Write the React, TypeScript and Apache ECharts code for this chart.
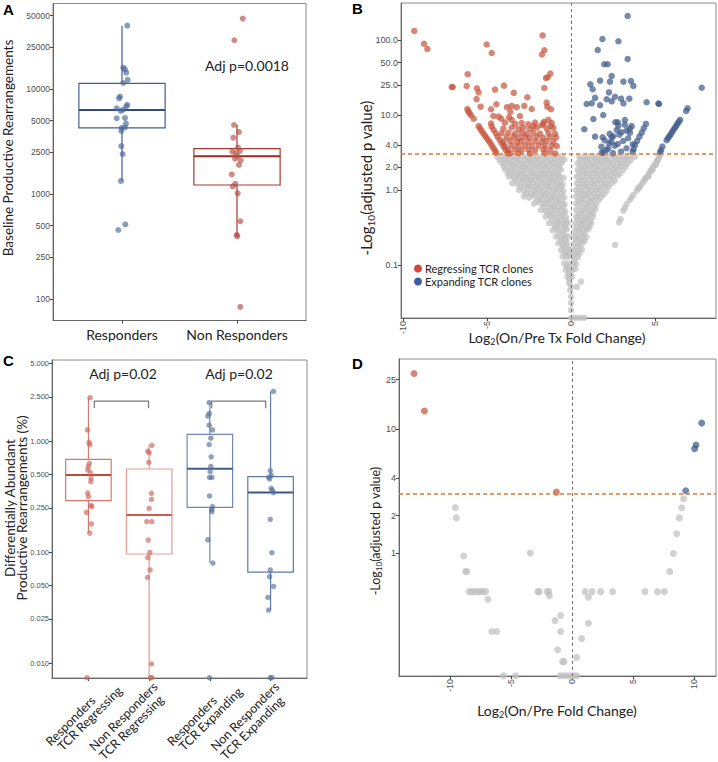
import React, { useEffect, useRef } from "react";
import * as echarts from "echarts";

// ---------------- Panel A ----------------
const aCategories = ["Responders", "Non Responders"];
const aRespJitter = [1.046, 1.011, 1.026, 1.037, 1.05, 1.011, 0.983, 0.974, 1.046, 1.037, 0.954, 0.989, 1.011, 0.954, 1.026, 1.035, 1.026, 0.997, 0.994, 0.994, 1.006, 0.991, 1.029, 0.968];
const aRespValues = [40100, 15950, 15400, 14300, 12200, 11400, 8450, 8150, 7050, 6850, 6550, 6170, 6350, 5260, 5300, 4680, 4300, 4270, 3980, 2860, 2400, 1330, 514, 454];
const aNonJitter = [2.05, 1.977, 1.974, 2.017, 1.968, 2.009, 1.959, 2.026, 1.991, 2.003, 1.983, 2.032, 2.017, 1.954, 1.985, 1.963, 2.006, 2.029, 1.997, 2.003, 2.029];
const aNonValues = [46800, 29100, 4540, 3890, 3440, 2760, 2530, 2570, 2450, 2300, 2170, 2090, 1890, 1540, 1250, 1180, 1015, 550, 407, 395, 84];
// [position, q1, median, q3, lower whisker, upper whisker]
const aBoxStats = [
  [1, 4260, 6310, 11330, 1330, 40100],
  [2, 1218, 2285, 2700, 398, 4540],
];
const aTicks = [100, 250, 500, 1000, 2500, 5000, 10000, 25000, 50000];
const aTickLabels = ["100", "250", "500", "1000", "2500", "5000", "10000", "25000", "50000"];
const aAnnotation = "Adj p=0.0018";

// ---------------- Panel B ----------------
const bThreshold = 3;
const bRegressing = [
  [-9.33, 132], [-8.75, 89], [-8.55, 76], [-5.02, 87], [-4.72, 67], [-1.69, 115], [-1.59, 73], [-1.73, 64],
  [-6.15, 35], [-1.23, 35.6], [-1.39, 31.8], [-1.49, 31.1],
  [-7.1, 23.6], [-7.04, 23.6], [-6.21, 24.4], [-5.6, 22.7], [-5.5, 20], [-4.52, 21.8], [-3.99, 24.6], [-3.41, 19.7], [-1.59, 22.9],
  [-5.62, 16.3], [-2.6, 17.2], [-4.44, 13.9], [-5.38, 12.9], [-6.17, 12], [-6.11, 11.2], [-6.05, 10.6],
  [-4.76, 11.9], [-3.81, 12.7], [-3.53, 13.2], [-3.23, 12.7], [-2.78, 13.2], [-2.34, 12], [-1.45, 14.6], [-1.41, 12.9], [-1.19, 11.9],
  [-3.61, 11], [-4.62, 9.7], [-5.79, 8.9], [-4.31, 9.5], [-4.15, 8.9], [-3.69, 9.3], [-3.04, 9.7], [-3.53, 8.6], [-1.35, 8.6], [-1.61, 8.1],
  [-2.24, 7.1], [-1.75, 7.3], [-1.21, 7.1], [-5.95, 9.9],
  [-5.5, 7.13], [-5.42, 6.64], [-5.32, 6.1], [-5.22, 5.7], [-5.12, 5.3], [-5.02, 4.94], [-4.92, 4.6], [-4.82, 4.28], [-4.72, 3.94], [-4.62, 3.63], [-4.52, 3.35], [-4.46, 3.14],
  [-4.72, 6.98], [-4.6, 6.3], [-4.48, 5.7], [-4.37, 5.14], [-4.25, 4.65], [-4.13, 4.19], [-4.01, 3.78], [-3.89, 3.41], [-3.77, 3.08],
  [-4.76, 7.7], [-3.93, 7.9], [-3.33, 7.6], [-2.94, 7.8], [-2.54, 7.5], [-2.14, 7.9], [-1.65, 7.6], [-1.15, 7.8],
  [-4.03, 6.6], [-3.53, 6.8], [-3.13, 6.5], [-2.84, 6.7], [-2.44, 6.5], [-2.04, 6.8], [-1.45, 6.6], [-1.05, 6.7],
  [-4.13, 5.7], [-3.73, 5.8], [-3.33, 5.6], [-2.94, 5.75], [-2.64, 5.6], [-2.24, 5.8], [-1.85, 5.65], [-1.35, 5.75], [-0.95, 5.6],
  [-3.83, 5.04], [-3.43, 5.1], [-3.1, 4.95], [-2.74, 5.1], [-2.44, 4.98], [-2.04, 5.1], [-1.65, 4.95], [-1.25, 5.08], [-0.89, 5.0],
  [-4.03, 4.41], [-3.63, 4.5], [-3.23, 4.35], [-2.94, 4.48], [-2.54, 4.36], [-2.14, 4.46], [-1.75, 4.38], [-1.45, 4.47], [-1.05, 4.4],
  [-3.93, 3.86], [-3.53, 3.92], [-3.13, 3.82], [-2.74, 3.9], [-2.34, 3.84], [-1.94, 3.9], [-1.55, 3.82], [-1.15, 3.9], [-0.85, 3.85],
  [-3.73, 3.41], [-3.33, 3.46], [-2.94, 3.38], [-2.54, 3.44], [-2.14, 3.39], [-1.65, 3.45], [-1.25, 3.4],
  [-3.63, 3.08], [-3.13, 3.1], [-2.44, 3.06], [-1.55, 3.1], [-0.95, 3.07],
];
const bExpanding = [
  [3.37, 209], [1.87, 103], [2.82, 96], [1.59, 73.6], [3.37, 55.8], [1.98, 47.4], [2.18, 47.4], [2.42, 33.1],
  [1.73, 28.7], [2.32, 27.8], [3.12, 27.8], [3.57, 28.4], [3.71, 24.4], [1.15, 25.6], [1.29, 22], [2.26, 20], [7.78, 23.1],
  [2.62, 17.5], [2.98, 16.5], [3.47, 16.5], [1.43, 16.9], [2.12, 16.2], [0.93, 14], [1.23, 14.3], [1.73, 13.5], [2.42, 15.2],
  [3.12, 14.3], [4.5, 14.8], [5.2, 14.2], [5.24, 14.0], [1.92, 10], [6.94, 12.3], [6.85, 11.3], [1.33, 8.85], [2.64, 8.0],
  [2.78, 8.0], [3.21, 8.58], [2.82, 7.2], [3.61, 7.1], [0.79, 6.44], [2.72, 6.3], [3.31, 6.18], [1.43, 5.14], [1.88, 5.04],
  [2.42, 5.04], [2.52, 5.2], [2.88, 5.47], [3.51, 5.81], [1.81, 3.78], [2.26, 4.19], [2.78, 4.1], [3.67, 4.06], [1.83, 3.15],
  [1.93, 3.15], [2.98, 3.24], [2.22, 3.59], [2.0, 4.6], [2.4, 4.4], [2.6, 3.9], [3.1, 4.5], [3.3, 3.6], [2.1, 3.4], [2.5, 3.1],
  [3.0, 5.9], [3.4, 4.9], [2.3, 5.6], [3.2, 7.4], [3.5, 6.6],
  [4.46, 7.6], [4.33, 6.64], [4.21, 5.81], [4.07, 5.14], [3.93, 4.5], [3.81, 3.98], [3.73, 3.52], [3.67, 3.24],
  [6.49, 8.6], [6.41, 8.1], [6.33, 7.6], [6.25, 7.1], [6.17, 6.7], [6.09, 6.3], [6.01, 5.9], [5.93, 5.5], [5.85, 5.2],
  [5.77, 4.9], [5.69, 4.6], [5.44, 3.8], [5.36, 3.4], [5.3, 3.2],
];
const bNotSignificant = [
  [-4.4, 2.8], [-4.1, 2.72], [-3.8, 2.82], [-3.5, 2.75], [-3.2, 2.7], [-2.9, 2.84], [-2.6, 2.74], [-2.3, 2.8], [-2.0, 2.7], [-1.7, 2.82], [-1.4, 2.74], [-1.1, 2.86], [-0.8, 2.72], [-0.55, 2.8], [-0.4, 2.55],
  [-4.25, 2.5], [-3.95, 2.55], [-3.65, 2.48], [-3.35, 2.56], [-3.05, 2.5], [-2.75, 2.55], [-2.45, 2.47], [-2.15, 2.56], [-1.85, 2.5], [-1.55, 2.54], [-1.25, 2.48], [-0.95, 2.55], [-0.65, 2.5],
  [-4.1, 2.27], [-3.8, 2.32], [-3.5, 2.22], [-3.2, 2.3], [-2.9, 2.24], [-2.6, 2.33], [-2.3, 2.25], [-2.0, 2.3], [-1.7, 2.22], [-1.4, 2.31], [-1.1, 2.26], [-0.8, 2.2], [-0.55, 2.3],
  [-4.0, 2.05], [-3.7, 2.02], [-3.4, 2.08], [-3.1, 2.03], [-2.8, 2.07], [-2.5, 2.01], [-2.2, 2.06], [-1.9, 2.03], [-1.6, 2.08], [-1.3, 2.02], [-1.0, 2.06], [-0.7, 2.02],
  [-3.9, 1.85], [-3.6, 1.8], [-3.3, 1.9], [-3.0, 1.83], [-2.7, 1.88], [-2.4, 1.8], [-2.1, 1.87], [-1.8, 1.82], [-1.5, 1.9], [-1.2, 1.84], [-0.9, 1.8], [-0.6, 1.86],
  [-3.75, 1.66], [-3.45, 1.68], [-3.15, 1.64], [-2.85, 1.69], [-2.55, 1.65], [-2.25, 1.67], [-1.95, 1.63], [-1.65, 1.68], [-1.35, 1.65], [-1.05, 1.67], [-0.75, 1.64],
  [-3.7, 1.51], [-3.4, 1.48], [-3.1, 1.55], [-2.8, 1.5], [-2.5, 1.46], [-2.2, 1.53], [-1.9, 1.49], [-1.6, 1.55], [-1.3, 1.47], [-1.0, 1.52], [-0.7, 1.5], [-0.45, 1.45],
  [-3.35, 1.36], [-3.05, 1.34], [-2.75, 1.38], [-2.45, 1.35], [-2.15, 1.37], [-1.85, 1.33], [-1.55, 1.37], [-1.25, 1.34], [-0.95, 1.36], [-0.65, 1.33],
  [-3.5, 1.23], [-3.2, 1.2], [-2.9, 1.26], [-2.6, 1.21], [-2.3, 1.25], [-2.0, 1.19], [-1.7, 1.24], [-1.4, 1.2], [-1.1, 1.26], [-0.8, 1.22], [-0.5, 1.18],
  [-3.0, 1.1], [-2.7, 1.12], [-2.4, 1.09], [-2.1, 1.11], [-1.8, 1.08], [-1.5, 1.12], [-1.2, 1.1], [-0.9, 1.09], [-0.6, 1.11],
  [-3.1, 1.0], [-2.8, 0.97], [-2.5, 1.03], [-2.2, 0.98], [-1.9, 1.02], [-1.6, 0.96], [-1.3, 1.01], [-1.0, 0.98], [-0.7, 1.03], [-0.45, 0.97],
  [-2.65, 0.9], [-2.35, 0.88], [-2.05, 0.91], [-1.75, 0.89], [-1.45, 0.9], [-1.15, 0.88], [-0.85, 0.91], [-0.55, 0.89],
  [-2.8, 0.82], [-2.5, 0.79], [-2.2, 0.83], [-1.9, 0.8], [-1.6, 0.84], [-1.3, 0.81], [-1.0, 0.79], [-0.7, 0.83], [-0.4, 0.8],
  [-2.05, 0.73], [-1.75, 0.74], [-1.45, 0.72], [-1.15, 0.74], [-0.85, 0.73], [-0.55, 0.72],
  [-2.2, 0.66], [-1.9, 0.68], [-1.6, 0.65], [-1.3, 0.67], [-1.0, 0.64], [-0.7, 0.68], [-0.4, 0.65],
  [-1.65, 0.6], [-1.35, 0.59], [-1.05, 0.6], [-0.75, 0.59], [-0.45, 0.6],
  [-1.8, 0.54], [-1.5, 0.52], [-1.2, 0.55], [-0.9, 0.53], [-0.6, 0.55], [-0.35, 0.52],
  [-1.35, 0.48], [-1.05, 0.49], [-0.75, 0.48], [-0.45, 0.49],
  [-1.5, 0.44], [-1.2, 0.45], [-0.9, 0.43], [-0.6, 0.45], [-0.3, 0.44],
  [-1.15, 0.4], [-0.85, 0.39], [-0.55, 0.4], [-0.3, 0.39],
  [-1.3, 0.36], [-1.0, 0.35], [-0.7, 0.37], [-0.4, 0.35], [-0.2, 0.36],
  [-1.1, 0.29], [-0.8, 0.3], [-0.5, 0.29], [-0.25, 0.3], [-0.95, 0.32], [-0.65, 0.33], [-0.35, 0.32],
  [-0.9, 0.24], [-0.6, 0.23], [-0.35, 0.24], [-0.15, 0.24], [-0.75, 0.265], [-0.45, 0.26],
  [-0.75, 0.195], [-0.5, 0.19], [-0.25, 0.2], [-0.6, 0.215], [-0.35, 0.215],
  [-0.6, 0.158], [-0.35, 0.155], [-0.1, 0.16], [-0.45, 0.175], [-0.2, 0.175],
  [-0.5, 0.13], [-0.25, 0.127], [-0.05, 0.13], [-0.35, 0.142], [-0.15, 0.143],
  [-0.4, 0.105], [-0.15, 0.103], [-0.3, 0.086], [-0.1, 0.087], [-0.2, 0.07], [-0.05, 0.071], [-0.25, 0.095], [-0.15, 0.078],
  [-0.1, 0.057], [-0.05, 0.046], [0.0, 0.038], [0.0, 0.031], [0.0, 0.025], [-0.1, 0.063], [0.0, 0.051],
  [0.0, 0.0198], [0.2, 0.0198], [0.4, 0.0198], [0.6, 0.0198], [0.8, 0.0198],
  [0.5, 2.78], [0.8, 2.7], [1.1, 2.82], [1.4, 2.74], [1.7, 2.8], [2.0, 2.72], [2.3, 2.84], [2.6, 2.75], [2.9, 2.8], [3.2, 2.72], [3.5, 2.83], [3.8, 2.78],
  [0.55, 2.5], [0.85, 2.55], [1.15, 2.48], [1.45, 2.56], [1.75, 2.5], [2.05, 2.55], [2.35, 2.47], [2.65, 2.56], [2.95, 2.5], [3.25, 2.54], [3.55, 2.5],
  [0.4, 2.27], [0.7, 2.22], [1.0, 2.3], [1.3, 2.24], [1.6, 2.32], [1.9, 2.25], [2.2, 2.29], [2.5, 2.22], [2.8, 2.31], [3.1, 2.26], [3.4, 2.3],
  [0.55, 2.05], [0.85, 2.02], [1.15, 2.08], [1.45, 2.03], [1.75, 2.07], [2.05, 2.01], [2.35, 2.06], [2.65, 2.03], [2.95, 2.07], [3.25, 2.04],
  [0.4, 1.85], [0.7, 1.81], [1.0, 1.88], [1.3, 1.83], [1.6, 1.87], [1.9, 1.8], [2.2, 1.86], [2.5, 1.82], [2.8, 1.88], [3.1, 1.84],
  [0.5, 1.66], [0.8, 1.68], [1.1, 1.64], [1.4, 1.69], [1.7, 1.65], [2.0, 1.67], [2.3, 1.63], [2.6, 1.68], [2.9, 1.65],
  [0.35, 1.51], [0.65, 1.47], [0.95, 1.54], [1.25, 1.49], [1.55, 1.53], [1.85, 1.48], [2.15, 1.52], [2.45, 1.5], [2.75, 1.55],
  [0.5, 1.36], [0.8, 1.34], [1.1, 1.38], [1.4, 1.35], [1.7, 1.37], [2.0, 1.33], [2.3, 1.37], [2.6, 1.34],
  [0.35, 1.23], [0.65, 1.2], [0.95, 1.25], [1.25, 1.21], [1.55, 1.26], [1.85, 1.22], [2.15, 1.19], [2.45, 1.24],
  [0.45, 1.1], [0.75, 1.12], [1.05, 1.09], [1.35, 1.11], [1.65, 1.08], [1.95, 1.12], [2.25, 1.1],
  [0.3, 1.0], [0.6, 0.97], [0.9, 1.02], [1.2, 0.98], [1.5, 1.03], [1.8, 0.99], [2.1, 0.96],
  [0.45, 0.9], [0.75, 0.88], [1.05, 0.91], [1.35, 0.89], [1.65, 0.9], [1.95, 0.88],
  [0.3, 0.82], [0.6, 0.8], [0.9, 0.83], [1.2, 0.79], [1.5, 0.82], [1.8, 0.8],
  [0.45, 0.73], [0.75, 0.74], [1.05, 0.72], [1.35, 0.74], [1.65, 0.73],
  [0.3, 0.66], [0.6, 0.68], [0.9, 0.65], [1.2, 0.67], [1.5, 0.64],
  [0.45, 0.6], [0.75, 0.59], [1.05, 0.6], [1.35, 0.59],
  [0.3, 0.54], [0.6, 0.52], [0.9, 0.55], [1.2, 0.53], [1.45, 0.55],
  [0.45, 0.48], [0.75, 0.49], [1.05, 0.48], [1.3, 0.49],
  [0.3, 0.44], [0.55, 0.45], [0.8, 0.43], [1.05, 0.45], [1.3, 0.44],
  [0.4, 0.4], [0.65, 0.39], [0.9, 0.4], [1.15, 0.39],
  [0.25, 0.36], [0.5, 0.35], [0.75, 0.37], [1.0, 0.35], [1.2, 0.36],
  [0.35, 0.32], [0.6, 0.33], [0.85, 0.32], [1.1, 0.32],
  [0.25, 0.29], [0.5, 0.3], [0.75, 0.29], [1.0, 0.3],
  [0.3, 0.26], [0.55, 0.265], [0.8, 0.26],
  [0.2, 0.24], [0.45, 0.23], [0.7, 0.24], [0.9, 0.235],
  [0.3, 0.215], [0.55, 0.215], [0.8, 0.21],
  [0.2, 0.195], [0.45, 0.19], [0.7, 0.2],
  [0.3, 0.175], [0.55, 0.175],
  [0.15, 0.158], [0.4, 0.155], [0.65, 0.16],
  [0.25, 0.142], [0.5, 0.143],
  [0.15, 0.13], [0.4, 0.127], [0.1, 0.105], [0.3, 0.103], [0.1, 0.086], [0.05, 0.07], [0.35, 0.051], [0.6, 0.06], [0.2, 0.115], [0.25, 0.09],
  [2.62, 0.185], [2.86, 0.37], [2.95, 0.41], [3.12, 0.53], [3.31, 0.65], [3.51, 0.74], [3.71, 0.86], [3.91, 0.98], [4.01, 1.04],
  [4.11, 1.11], [4.21, 1.2], [4.31, 1.29], [4.41, 1.38], [4.5, 1.48], [4.6, 1.6], [4.7, 1.75], [4.8, 1.9], [4.9, 2.05],
  [5.0, 2.2], [5.1, 2.39], [5.17, 2.55], [5.24, 2.73], [5.28, 2.88], [4.62, 1.52], [4.85, 1.85], [5.05, 2.15],
  [3.2, 0.58], [3.6, 0.8], [4.0, 1.07], [4.4, 1.42], [4.75, 1.8], [5.15, 2.5],
];
const bXTicks = [-10, -5, 0, 5];
const bYTicks = [0.1, 1, 2, 4, 10, 25, 50, 100];
const bYTickLabels = ["0.1", "1.0", "2.0", "4.0", "10.0", "25.0", "50.0", "100.0"];
const bLegendNames = ["Regressing TCR clones", "Expanding TCR clones"];

// ---------------- Panel C ----------------
const cLabelLine1 = ["Responders", "Non Responders", "Responders", "Non Responders"];
const cLabelLine2 = ["TCR Regressing", "TCR Regressing", "TCR Expanding", "TCR Expanding"];
const cRegJitter = [1.027, 0.984, 1.011, 1.022, 1.016, 1.0, 0.989, 1.044, 0.989, 1.0, 1.044, 1.055, 0.967, 1.049, 1.022, 0.978, 1.03, 1.04,
  2.044, 1.978, 2.0, 1.995, 2.038, 2.038, 2.0, 1.962, 2.044, 1.984, 2.011, 1.978, 2.016, 1.973, 2.038, 2.022, 2.044];
const cRegValues = [2.46, 1.26, 0.97, 0.93, 0.63, 0.59, 0.55, 0.46, 0.34, 0.315, 0.263, 0.257, 0.228, 0.179, 0.148, 0, 0.52, 0.43,
  0.914, 0.81, 0.785, 0.643, 0.338, 0.298, 0.247, 0.188, 0.188, 0.128, 0.099, 0.089, 0.069, 0.059, 0.0098, 0, 0];
const cExpJitter = [2.989, 2.989, 2.967, 2.989, 3.044, 3.016, 2.989, 3.022, 3.016, 3.005, 2.995, 3.033, 2.995, 3.044, 3.033, 3.033, 2.967, 3.049, 2.995,
  4.049, 3.995, 4.011, 3.984, 3.967, 4.011, 4.027, 4.049, 3.995, 4.022, 3.995, 3.984, 4.049, 3.956, 3.967, 3.995, 4.022];
const cExpValues = [2.22, 1.77, 1.68, 1.39, 1.26, 1.06, 0.93, 0.72, 0.59, 0.53, 0.47, 0.47, 0.32, 0.257, 0.242, 0.231, 0.129, 0.0796, 0,
  2.8, 0.54, 0.49, 0.455, 0.47, 0.375, 0.362, 0.343, 0.197, 0.0986, 0.069, 0.06, 0.049, 0.039, 0.03, 0, 0];
const cBoxStats = [
  [1, 0.29, 0.494, 0.684, 0.148, 2.46],
  [2, 0.096, 0.216, 0.56, 0, 0.914],
  [3, 0.252, 0.563, 1.15, 0.0796, 2.22],
  [4, 0.066, 0.343, 0.477, 0.03, 2.8],
];
// [x left, x right, y tick bottom, y bar]
const cBrackets = [
  [1.097, 1.99, 1.97, 2.29],
  [3.03, 3.92, 1.97, 2.29],
];
const cAnnotations = ["Adj p=0.02", "Adj p=0.02"];
const cTicks = [0.01, 0.025, 0.05, 0.1, 0.25, 0.5, 1, 2.5, 5];
const cTickLabels = ["0.010", "0.025", "0.050", "0.100", "0.250", "0.500", "1.000", "2.500", "5.000"];

// ---------------- Panel D ----------------
const dThreshold = 3;
const dRegressing = [[-12.95, 28.1], [-12.1, 14.0], [-1.28, 3.1]];
const dExpanding = [[10.63, 11.2], [10.16, 7.43], [10.05, 6.94], [9.32, 3.18]];
const dNotSignificant = [
  [9.15, 2.74], [8.99, 2.32], [8.8, 1.92], [8.58, 1.43], [8.31, 0.99], [8.01, 0.71], [7.57, 0.488], [7.0, 0.488], [5.98, 0.488],
  [3.33, 0.488], [2.35, 0.488], [1.64, 0.488], [1.07, 0.488], [1.34, 0.439], [1.34, 0.271], [0.79, 0.204], [0.38, 0.144],
  [-5.63, 0.1024], [-4.62, 0.1024], [-0.98, 0.1024], [-0.71, 0.1024], [-0.44, 0.1024], [-0.16, 0.1024], [0.11, 0.1024], [0.38, 0.1024],
  [-0.66, 0.133], [-0.77, 0.133], [-1.17, 0.166], [-0.93, 0.313], [-1.39, 0.285], [-0.93, 0.233], [-1.91, 0.488], [-2.02, 0.488],
  [-1.86, 0.453], [-2.68, 0.488], [-2.81, 0.488], [-3.42, 1.0], [-6.58, 0.233], [-6.17, 0.233], [-6.89, 0.423],
  [-8.44, 0.488], [-8.2, 0.488], [-7.97, 0.488], [-7.7, 0.488], [-7.5, 0.488], [-7.3, 0.488], [-7.08, 0.488],
  [-8.72, 0.71], [-8.63, 0.71], [-8.88, 0.946], [-9.48, 1.92], [-9.56, 2.33],
];
const dXTicks = [-10, -5, 0, 5, 10];
const dYTicks = [1, 2, 4, 10, 25];
const dYTickLabels = ["1", "2", "4", "10", "25"];

// ---------------- styling / layout ----------------
const TEXT_FONT = "Lato";
const NUM_FONT = "Liberation Sans";
const AXIS_COLOR = "#666";
const LABEL_COLOR = "#4d4d4d";
const RED_B = "rgba(200,86,62,0.9)";
const BLUE_B = "rgba(62,92,140,0.9)";
const GREY_B = "rgba(192,192,192,0.92)";
const THRESH_COLOR = "#E07A34";
const A_Y = [1.795, 4.814];
const B_Y = [-1.707, 2.493];
const C_Y = [-2.135, 0.73];
const D_Y = [-0.992, 1.565];
// start offsets (px, relative to the tick at the bottom of panel C) of the two rotated label lines
const C_LABEL_OFFSETS = [
  [-40.5, 65.5, -28.7, 70.5],
  [-57.8, 70.5, -47.8, 79.5],
  [-40.5, 65.5, -28.7, 70.5],
  [-57.8, 70.5, -47.8, 79.5],
];

const lg = (v: number, floor: number) => (v > 0 ? Math.log10(v) : floor);

function logAxis(gridIndex: number, minLog: number, maxLog: number, ticks: number[], labels: string[], fontSize: number) {
  const vals = ticks.map((t) => Math.log10(t));
  return {
    type: "value",
    gridIndex,
    min: minLog,
    max: maxLog,
    axisLine: { show: true, onZero: false, lineStyle: { color: AXIS_COLOR, width: 1 } },
    axisTick: { show: true, customValues: vals, length: 3, lineStyle: { color: "#444" } },
    axisLabel: {
      customValues: vals,
      fontSize,
      fontFamily: NUM_FONT,
      color: LABEL_COLOR,
      margin: 3,
      formatter: (v: number) => {
        let b = 0;
        for (let i = 1; i < vals.length; i++) if (Math.abs(vals[i] - v) < Math.abs(vals[b] - v)) b = i;
        return labels[b];
      },
    },
    splitLine: { show: false },
  };
}

function linAxis(gridIndex: number, min: number, max: number, ticks: number[], label: any) {
  return {
    type: "value",
    gridIndex,
    min,
    max,
    axisLine: { show: true, onZero: false, lineStyle: { color: AXIS_COLOR, width: 1 } },
    axisTick: { show: true, customValues: ticks, length: 3, lineStyle: { color: "#444" } },
    axisLabel: { customValues: ticks, ...label },
    splitLine: { show: false },
  };
}

function boxRenderer(colors: string[], medColors: string[], halfW: number) {
  return (params: any, api: any) => {
    const i = params.dataIndex;
    const x = api.value(0);
    const q1 = api.value(1), med = api.value(2), q3 = api.value(3), lo = api.value(4), hi = api.value(5);
    const tl = api.coord([x - halfW, q3]);
    const br = api.coord([x + halfW, q1]);
    const m1 = api.coord([x - halfW, med]);
    const m2 = api.coord([x + halfW, med]);
    const wt = api.coord([x, hi]);
    const wq3 = api.coord([x, q3]);
    const wb = api.coord([x, lo]);
    const wq1 = api.coord([x, q1]);
    return {
      type: "group",
      children: [
        { type: "line", shape: { x1: wq3[0], y1: wq3[1], x2: wt[0], y2: wt[1] }, style: { stroke: colors[i], lineWidth: 1.2 } },
        { type: "line", shape: { x1: wq1[0], y1: wq1[1], x2: wb[0], y2: wb[1] }, style: { stroke: colors[i], lineWidth: 1.2 } },
        { type: "rect", shape: { x: tl[0], y: tl[1], width: br[0] - tl[0], height: br[1] - tl[1] }, style: { fill: "none", stroke: colors[i], lineWidth: 1.2 } },
        { type: "line", shape: { x1: m1[0], y1: m1[1], x2: m2[0], y2: m2[1] }, style: { stroke: medColors[i], lineWidth: 2 } },
      ],
    };
  };
}

const subRich = (size: number) => ({
  a: { fontFamily: TEXT_FONT, fontSize: size, fill: "#222", lineHeight: size + 4 },
  s: { fontFamily: TEXT_FONT, fontSize: Math.round(size * 0.65), fill: "#222", lineHeight: Math.round(size * 0.65), verticalAlign: "bottom" },
});

function baseGraphics(): any[] {
  const letter = (t: string, x: number, y: number) => ({ type: "text", x, y, style: { text: t, fontFamily: NUM_FONT, fontWeight: "bold", fontSize: 15, fill: "#000", verticalAlign: "middle" } });
  const plain = (t: string, x: number, y: number, size: number) => ({ type: "text", x, y, style: { text: t, fontFamily: TEXT_FONT, fontSize: size, fill: "#222", align: "center", verticalAlign: "middle" } });
  return [
    letter("A", 3, 9), letter("B", 352, 8), letter("C", 3, 360), letter("D", 352, 363),
    plain(aAnnotation, 247, 65, 14),
    plain(cAnnotations[0], 123, 373, 14),
    plain(cAnnotations[1], 239, 373, 14),
    { type: "text", x: 8, y: 148, rotation: Math.PI / 2, style: { text: "Baseline Productive Rearrangements", fontFamily: TEXT_FONT, fontSize: 13.5, fill: "#222", align: "center", verticalAlign: "middle" } },
    { type: "text", x: 16, y: 508, rotation: Math.PI / 2, style: { text: "Differentially Abundant\nProductive Rearrangements (%)", fontFamily: TEXT_FONT, fontSize: 13.5, lineHeight: 12, fill: "#222", align: "center", verticalAlign: "middle" } },
    { type: "text", x: 366, y: 178, rotation: Math.PI / 2, style: { text: "{a|-Log}{s|10}{a|(adjusted p value)}", rich: subRich(15), align: "center", verticalAlign: "middle" } },
    { type: "text", x: 557, y: 337, style: { text: "{a|Log}{s|2}{a|(On/Pre Tx Fold Change)}", rich: subRich(14), align: "center", verticalAlign: "middle" } },
    { type: "text", x: 375, y: 531, rotation: Math.PI / 2, style: { text: "{a|-Log}{s|10}{a|(adjusted p value)}", rich: subRich(12.5), align: "center", verticalAlign: "middle" } },
    { type: "text", x: 557, y: 710, style: { text: "{a|Log}{s|2}{a|(On/Pre Fold Change)}", rich: subRich(14), align: "center", verticalAlign: "middle" } },
  ];
}

function buildOption() {
  const cFloor = C_Y[0] + 0.003;
  const gridBorder = { show: true, borderColor: "#8a8a8a", borderWidth: 1 };

  return {
    animation: false,
    backgroundColor: "#ffffff",
    grid: [
      { left: 53, top: 3.5, width: 253, height: 317, ...gridBorder },
      { left: 401, top: 3, width: 315, height: 315, ...gridBorder },
      { left: 52, top: 360, width: 255, height: 318, ...gridBorder },
      { left: 399, top: 359, width: 317, height: 317, ...gridBorder },
    ],
    xAxis: [
      linAxis(0, 0.4, 2.6, [1, 2], {
        fontSize: 14, fontFamily: TEXT_FONT, color: "#222", margin: 7,
        formatter: (v: number) => aCategories[Math.round(v) - 1] || "",
      }),
      linAxis(1, -10.12, 8.63, bXTicks, {
        fontSize: 9, fontFamily: NUM_FONT, color: LABEL_COLOR, margin: 3, rotate: 90,
        formatter: (v: number) => String(v),
      }),
      linAxis(2, 0.4, 4.6, [1, 2, 3, 4], { show: false }),
      linAxis(3, -14.18, 11.8, dXTicks, {
        fontSize: 9, fontFamily: NUM_FONT, color: LABEL_COLOR, margin: 3, rotate: 90,
        formatter: (v: number) => String(v),
      }),
    ],
    yAxis: [
      logAxis(0, A_Y[0], A_Y[1], aTicks, aTickLabels, 8.5),
      logAxis(1, B_Y[0], B_Y[1], bYTicks, bYTickLabels, 9),
      logAxis(2, C_Y[0], C_Y[1], cTicks, cTickLabels, 7.5),
      logAxis(3, D_Y[0], D_Y[1], dYTicks, dYTickLabels, 9),
    ],
    legend: {
      data: [
        { name: bLegendNames[0], icon: "circle", itemStyle: { color: "#D2473F", opacity: 1 } },
        { name: bLegendNames[1], icon: "circle", itemStyle: { color: "#3C5CA8", opacity: 1 } },
      ],
      orient: "vertical",
      left: 409,
      top: 258,
      itemWidth: 8,
      itemHeight: 8,
      itemGap: 2,
      selectedMode: false,
      textStyle: { fontFamily: TEXT_FONT, fontSize: 11, color: "#222", padding: [0, 0, 0, -2] },
    },
    series: [
      // Panel A
      {
        type: "custom",
        xAxisIndex: 0, yAxisIndex: 0,
        renderItem: boxRenderer(["#3F5F95", "#A8372E"], ["#2F4C80", "#982B22"], 0.375),
        encode: { x: 0, y: [1, 2, 3, 4, 5] },
        data: aBoxStats.map((s) => [s[0], lg(s[1], A_Y[0]), lg(s[2], A_Y[0]), lg(s[3], A_Y[0]), lg(s[4], A_Y[0]), lg(s[5], A_Y[0])]),
        z: 2,
      },
      {
        type: "scatter", name: aCategories[0], xAxisIndex: 0, yAxisIndex: 0, symbolSize: 6,
        itemStyle: { color: "rgba(74,104,152,0.82)" },
        data: aRespValues.map((v, i) => [aRespJitter[i], lg(v, A_Y[0])]), z: 3,
      },
      {
        type: "scatter", name: aCategories[1], xAxisIndex: 0, yAxisIndex: 0, symbolSize: 6,
        itemStyle: { color: "rgba(178,80,70,0.82)" },
        data: aNonValues.map((v, i) => [aNonJitter[i], lg(v, A_Y[0])]), z: 3,
      },
      // Panel B
      {
        type: "scatter", name: "Not significant", xAxisIndex: 1, yAxisIndex: 1, symbolSize: 6.5,
        itemStyle: { color: GREY_B },
        data: bNotSignificant.map((p) => [p[0], Math.log10(p[1])]),
        markLine: {
          silent: true, symbol: ["none", "none"], label: { show: false },
          data: [
            { xAxis: 0, lineStyle: { color: "#777", type: [3, 3], width: 1 } },
            { yAxis: Math.log10(bThreshold), lineStyle: { color: THRESH_COLOR, type: [4, 3], width: 1.5 } },
          ],
        },
        z: 2,
      },
      {
        type: "scatter", name: bLegendNames[0], xAxisIndex: 1, yAxisIndex: 1, symbolSize: 6.5,
        itemStyle: { color: RED_B },
        data: bRegressing.map((p) => [p[0], Math.log10(p[1])]), z: 3,
      },
      {
        type: "scatter", name: bLegendNames[1], xAxisIndex: 1, yAxisIndex: 1, symbolSize: 6.5,
        itemStyle: { color: BLUE_B },
        data: bExpanding.map((p) => [p[0], Math.log10(p[1])]), z: 3,
      },
      // Panel C
      {
        type: "custom",
        xAxisIndex: 2, yAxisIndex: 2,
        renderItem: boxRenderer(["#D6786D", "#E39D93", "#7189B0", "#5E7AA6"], ["#C2463A", "#CC5B4F", "#3F5C8A", "#3A5786"], 0.375),
        encode: { x: 0, y: [1, 2, 3, 4, 5] },
        data: cBoxStats.map((s) => [s[0], lg(s[1], cFloor), lg(s[2], cFloor), lg(s[3], cFloor), lg(s[4], C_Y[0]), lg(s[5], cFloor)]),
        z: 2,
      },
      {
        type: "scatter", name: "C regressing", xAxisIndex: 2, yAxisIndex: 2, symbolSize: 5.5,
        itemStyle: { color: "rgba(206,102,90,0.82)" },
        data: cRegValues.map((v, i) => [cRegJitter[i], lg(v, cFloor)]), z: 3,
      },
      {
        type: "scatter", name: "C expanding", xAxisIndex: 2, yAxisIndex: 2, symbolSize: 5.5,
        itemStyle: { color: "rgba(86,113,156,0.82)" },
        data: cExpValues.map((v, i) => [cExpJitter[i], lg(v, cFloor)]), z: 3,
      },
      ...cBrackets.map((b, i) => ({
        type: "line", name: "bracket" + i, xAxisIndex: 2, yAxisIndex: 2, symbol: "none",
        lineStyle: { color: "#777", width: 1.2 },
        data: [[b[0], Math.log10(b[2])], [b[0], Math.log10(b[3])], [b[1], Math.log10(b[3])], [b[1], Math.log10(b[2])]],
        z: 2,
      })),
      // Panel D
      {
        type: "scatter", name: "D not significant", xAxisIndex: 3, yAxisIndex: 3, symbolSize: 7,
        itemStyle: { color: GREY_B },
        data: dNotSignificant.map((p) => [p[0], Math.log10(p[1])]),
        markLine: {
          silent: true, symbol: ["none", "none"], label: { show: false },
          data: [
            { xAxis: 0, lineStyle: { color: "#777", type: [3, 3], width: 1 } },
            { yAxis: Math.log10(dThreshold), lineStyle: { color: THRESH_COLOR, type: [4, 3], width: 1.5 } },
          ],
        },
        z: 2,
      },
      {
        type: "scatter", name: "D regressing", xAxisIndex: 3, yAxisIndex: 3, symbolSize: 7,
        itemStyle: { color: RED_B }, data: dRegressing.map((p) => [p[0], Math.log10(p[1])]), z: 3,
      },
      {
        type: "scatter", name: "D expanding", xAxisIndex: 3, yAxisIndex: 3, symbolSize: 7,
        itemStyle: { color: BLUE_B }, data: dExpanding.map((p) => [p[0], Math.log10(p[1])]), z: 3,
      },
    ],
    graphic: baseGraphics(),
  };
}

export default function App() {
  const ref = useRef<HTMLDivElement>(null);
  useEffect(() => {
    document.body.style.margin = "0";
    const chart = echarts.init(ref.current as HTMLDivElement, null, { renderer: "svg" });
    chart.setOption(buildOption() as any);
    // rotated two-line category labels of panel C, anchored at the axis ticks
    const labelEls: any[] = [];
    cLabelLine1.forEach((l1, i) => {
      const p = chart.convertToPixel({ xAxisIndex: 2, yAxisIndex: 2 } as any, [i + 1, C_Y[0]]) as number[];
      const o = C_LABEL_OFFSETS[i];
      const mk = (t: string, dx: number, dy: number) => ({
        type: "text", x: p[0] + dx, y: p[1] + dy, rotation: Math.PI / 4,
        style: { text: t, fontFamily: TEXT_FONT, fontSize: 12.5, fill: "#222", align: "left", verticalAlign: "middle" },
      });
      labelEls.push(mk(l1, o[0], o[1]), mk(cLabelLine2[i], o[2], o[3]));
    });
    chart.setOption({ graphic: [...baseGraphics(), ...labelEls] } as any);
    return () => chart.dispose();
  }, []);
  return <div ref={ref} style={{ width: 718, height: 762 }} />;
}
